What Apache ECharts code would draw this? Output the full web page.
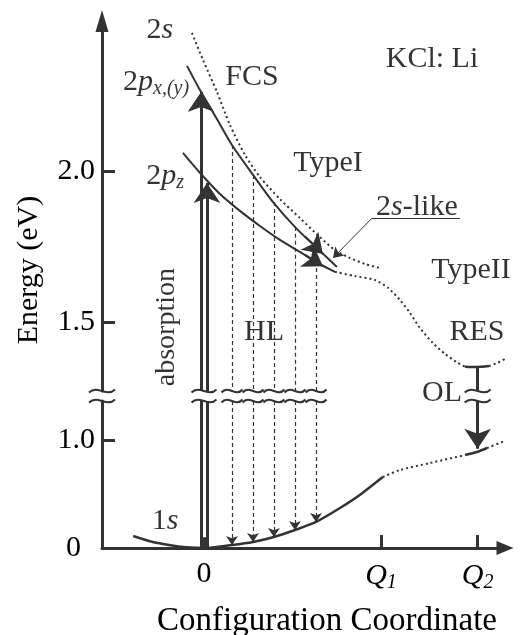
<!DOCTYPE html>
<html>
<head>
<meta charset="utf-8">
<script src="https://cdn.jsdelivr.net/npm/echarts@6/dist/echarts.min.js"></script>
<style>
html, body { margin: 0; padding: 0; background: #fff; }
#main { width: 521px; height: 635px; }
</style>
</head>
<body>
<div id="main"></div>
<script>
// configuration coordinate: 0 at the 1s minimum, Q1 = 1
let q1 = 1.0, q2 = 1.546;

// ground state 1s (lower panel, eV)
let gsX = [-0.40, -0.30, -0.19, -0.10, 0, 0.158, 0.277, 0.395, 0.514, 0.633, 0.768, 0.88, 1.01];
let gsE = [0.111, 0.060, 0.025, 0.007, 0, 0.028, 0.056, 0.102, 0.167, 0.241, 0.370, 0.491, 0.657];
let gsDotX = [1.01, 1.107, 1.277, 1.475];
let gsDotE = [0.657, 0.722, 0.787, 0.861];
let gsQ2X = [1.475, 1.542, 1.599];
let gsQ2E = [0.861, 0.889, 0.926];
let gsEndX = [1.599, 1.70];
let gsEndE = [0.926, 0.991];

// excited states (upper panel, eV)
let pxyX = [-0.096, -0.023, 0.073, 0.158, 0.277, 0.390, 0.520, 0.633, 0.751];
let pxyE = [2.348, 2.268, 2.172, 2.086, 1.987, 1.897, 1.811, 1.748, 1.682];
let s2X = [-0.068, -0.006, 0.073, 0.147, 0.232, 0.316, 0.429, 0.542, 0.655, 0.740, 0.825, 0.910, 0.994];
let s2E = [2.457, 2.368, 2.262, 2.152, 2.053, 1.980, 1.907, 1.844, 1.781, 1.738, 1.712, 1.692, 1.679];
let pzX = [-0.119, -0.017, 0.090, 0.203, 0.316, 0.429, 0.542, 0.644, 0.740];
let pzE = [2.060, 1.990, 1.924, 1.868, 1.818, 1.772, 1.732, 1.695, 1.666];
let t2X = [0.740, 0.853, 0.966, 1.040, 1.107, 1.164, 1.220, 1.294, 1.362, 1.435, 1.475];
let t2E = [1.666, 1.652, 1.639, 1.613, 1.573, 1.530, 1.480, 1.430, 1.394, 1.364, 1.352];
let resX = [1.475, 1.542, 1.610];
let resE = [1.352, 1.351, 1.354];
let resEndX = [1.610, 1.655, 1.712];
let resEndE = [1.354, 1.364, 1.381];

// transitions
let absX = [-0.017, 0.017];
let absTop = [2.262, 1.96];
let hlX = [0.158, 0.277, 0.395, 0.514, 0.633];
let hlTop = [2.086, 1.987, 1.897, 1.815, 1.748];
let hlBottom = [0.028, 0.056, 0.102, 0.167, 0.241];
let olTop = 1.351, olBottom = 0.92;

// text labels [rich text, x, E]
let upperLabels = [
    ['{n|2}{i|s}', -0.249, 2.467],
    ['{n|2}{i|p}{s|x,(y)}', -0.271, 2.295],
    ['{n|FCS}', 0.271, 2.311],
    ['{n|KCl: Li}', 1.288, 2.371],
    ['{n|TypeI}', 0.701, 2.026],
    ['{n|2}{i|s}{n|-like}', 1.203, 1.881],
    ['{n|2}{i|p}{s|z}', -0.220, 1.983],
    ['{n|TypeII}', 1.508, 1.672],
    ['{n|RES}', 1.542, 1.467],
    ['{n|HL}', 0.339, 1.467],
    ['{n|OL}', 1.345, 1.265]
];
let lowerLabels = [
    ['{n|1}{i|s}', -0.220, 0.25]
];

let ink = '#333';
let txt = '#000';
let serif = 'Liberation Serif';
let xMin = -0.5763, xMax = 1.7006;
let upMin = 1.2715, upMax = 2.4967, lowMax = 1.3611;

let rich = {
    n: { fontFamily: serif, fontSize: 30, color: txt },
    i: { fontFamily: serif, fontSize: 30, color: txt, fontStyle: 'italic' },
    s: { fontFamily: serif, fontSize: 20, color: txt, fontStyle: 'italic', verticalAlign: 'bottom', padding: [14, 0, 0, 0] },
    z: { fontFamily: serif, fontSize: 30, color: txt, padding: [0, 14, 0, 0] },
    a: { fontFamily: serif, fontSize: 28, color: txt }
};

function pts(xs, ys) {
    return xs.map((x, i) => [x, ys[i]]);
}

function curve(xs, ys, g, dotted, w) {
    return {
        type: 'line', xAxisIndex: g, yAxisIndex: g, data: pts(xs, ys),
        symbol: 'none', smooth: 0.25, silent: true, z: 3,
        lineStyle: { color: ink, width: w || 2, type: dotted ? [2, 3] : 'solid' }
    };
}

function arrows(segs, g, style, sym, size) {
    return {
        type: 'lines', coordinateSystem: 'cartesian2d', xAxisIndex: g, yAxisIndex: g,
        silent: true, z: 4,
        symbol: ['none', sym], symbolSize: size,
        lineStyle: Object.assign({ color: ink, opacity: 1, curveness: 0 }, style),
        data: segs.map(s => ({ coords: s }))
    };
}

function labels(list, g) {
    return {
        type: 'scatter', xAxisIndex: g, yAxisIndex: g, symbolSize: 0, clip: false, silent: true,
        data: list.map(l => ({ value: [l[1], l[2]], label: { formatter: l[0] } })),
        label: { show: true, position: 'inside', rich: rich }
    };
}

let mychart = echarts.init(document.getElementById('main'));

let options = {
    backgroundColor: '#fff',
    animation: false,
    grid: [
        { left: 102, top: 21, width: 403, height: 370 },
        { left: 102, top: 401, width: 403, height: 147 }
    ],
    xAxis: [{
        gridIndex: 0, type: 'value', min: xMin, max: xMax, show: false
    }, {
        gridIndex: 1, type: 'value', min: xMin, max: xMax,
        axisLine: { onZero: false, symbol: ['none', 'triangle'], symbolSize: [14, 17], lineStyle: { color: ink, width: 3 } },
        axisTick: { inside: true, length: 13, customValues: [q1, q2], lineStyle: { color: ink, width: 3 } },
        axisLabel: {
            customValues: [0, q1, q2], margin: 11,
            formatter: v => v === 0 ? '{n|0}' : (Math.abs(v - q1) < 1e-6 ? '{i|Q}{s|1}' : '{i|Q}{s|2}'),
            rich: rich
        },
        splitLine: { show: false }
    }],
    yAxis: [{
        gridIndex: 0, type: 'value', min: upMin, max: upMax,
        axisLine: { show: true, onZero: false, symbol: ['none', 'triangle'], symbolSize: [13, 22], lineStyle: { color: ink, width: 3 } },
        axisTick: { show: true, inside: true, length: 13, customValues: [1.5, 2.0], lineStyle: { color: ink, width: 3 } },
        axisLabel: { customValues: [1.5, 2.0], margin: 7, formatter: v => '{n|' + v.toFixed(1) + '}', rich: rich },
        splitLine: { show: false }
    }, {
        gridIndex: 1, type: 'value', min: 0, max: lowMax,
        axisLine: { show: true, onZero: false, lineStyle: { color: ink, width: 3 } },
        axisTick: { show: true, inside: true, length: 13, customValues: [1.0], lineStyle: { color: ink, width: 3 } },
        axisLabel: { customValues: [0, 1.0], margin: 7, formatter: v => v === 0 ? '{z|0}' : '{n|' + v.toFixed(1) + '}', rich: rich },
        splitLine: { show: false }
    }],
    series: [
        curve(pxyX, pxyE, 0, false),
        curve(s2X, s2E, 0, true),
        curve(pzX, pzE, 0, false),
        curve(t2X, t2E, 0, true),
        curve(resX, resE, 0, false, 2.5),
        curve(resEndX, resEndE, 0, true),
        curve(gsX, gsE, 1, false, 2.5),
        curve(gsDotX, gsDotE, 1, true),
        curve(gsQ2X, gsQ2E, 1, false, 2.5),
        curve(gsEndX, gsEndE, 1, true),
        // absorption
        arrows(absX.map((x, i) => [[x, upMin], [x, absTop[i]]]), 0, { width: 3 }, 'arrow', 20),
        arrows(absX.map(x => [[x, 0], [x, lowMax]]), 1, { width: 3 }, 'none', 1),
        arrows([[[0, 0], [0, 0.1]]], 1, { width: 9 }, 'none', 1),
        // HL emission
        arrows(hlX.map((x, i) => [[x, hlTop[i]], [x, upMin]]), 0, { width: 1.2, type: [4, 3] }, 'none', 1),
        arrows(hlX.map((x, i) => [[x, lowMax], [x, hlBottom[i]]]), 1, { width: 1.2, type: [4, 3] }, 'arrow', 9),
        // OL emission
        arrows([[[q2, olTop], [q2, upMin]]], 0, { width: 3 }, 'none', 1),
        arrows([[[q2, lowMax], [q2, olBottom]]], 1, { width: 3 }, 'arrow', 20),
        // relaxation arrows on the FCS curves
        arrows([[[0.571, 1.783], [0.672, 1.725]], [[0.571, 1.722], [0.672, 1.685]]], 0, { width: 2 }, 'arrow', 19),
        // 2s-like pointer and underline
        arrows([[[0.949, 1.844], [0.729, 1.712]]], 0, { width: 1 }, 'arrow', 10),
        arrows([[[0.949, 1.844], [1.446, 1.844]]], 0, { width: 1 }, 'none', 1),
        labels(upperLabels, 0),
        labels(lowerLabels, 1),
        {
            type: 'scatter', xAxisIndex: 0, yAxisIndex: 0, symbolSize: 0, clip: false, silent: true,
            data: [[-0.209, 1.483]],
            label: { show: true, position: 'inside', rotate: 90, formatter: '{a|absorption}', rich: rich }
        }
    ],
    graphic: [{
        type: 'text', x: 29, y: 270, rotation: Math.PI / 2,
        style: { text: 'Energy (eV)', fontFamily: serif, fontSize: 30, fill: txt, align: 'center', verticalAlign: 'middle' }
    }, {
        type: 'text', x: 327, y: 621,
        style: { text: 'Configuration Coordinate', fontFamily: serif, fontSize: 33, fill: txt, align: 'center', verticalAlign: 'middle' }
    }]
};
mychart.setOption(options);

// axis breaks: wavy marks where the two panels meet
function wave(cx, cy, w) {
    return {
        type: 'bezierCurve', silent: true, z: 10,
        shape: { x1: cx - w / 2, y1: cy + 1.5, cpx1: cx - w / 6, cpy1: cy - 7, cpx2: cx + w / 6, cpy2: cy + 7, x2: cx + w / 2, y2: cy - 1.5 },
        style: { stroke: ink, lineWidth: 2, fill: null }
    };
}
let yTop = mychart.convertToPixel({ gridIndex: 0 }, [0, upMin])[1];
let yBot = mychart.convertToPixel({ gridIndex: 1 }, [0, lowMax])[1];
let breaks = [[xMin, 26], [0, 25], [q2, 26]].concat(hlX.map(x => [x, 21]));
let marks = [];
breaks.forEach(b => {
    let cx = mychart.convertToPixel({ gridIndex: 1 }, [b[0], 0])[0];
    marks.push(wave(cx, yTop, b[1]), wave(cx, yBot, b[1]));
});
mychart.setOption({ graphic: options.graphic.concat(marks) });
</script>
</body>
</html>
